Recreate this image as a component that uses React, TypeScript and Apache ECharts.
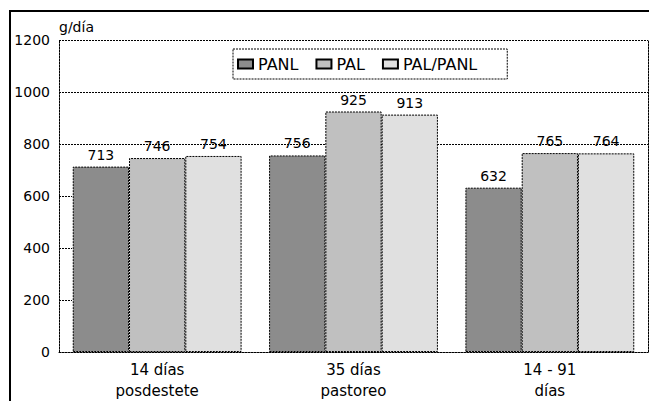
import React, { useEffect, useRef } from "react";
import * as echarts from "echarts";

const categories = ["14 días\nposdestete", "35 días\npastoreo", "14 - 91\ndías"];
const seriesNames = ["PANL", "PAL", "PAL/PANL"];
const panl = [713, 756, 632];
const pal = [746, 925, 765];
const palPanl = [754, 913, 764];
const yTicks = { min: 0, max: 1200, interval: 200 };
const unitLabel = "g/día";

const FONT = "DejaVu Sans";
const DOT: any = [2, 1];

export default function App() {
  const ref = useRef<HTMLDivElement>(null);
  useEffect(() => {
    if (!ref.current) return;
    const chart = echarts.init(ref.current, undefined, { renderer: "svg" });
    const colors = ["#8c8c8c", "#c0c0c0", "#e0e0e0"];
    const values = [panl, pal, palPanl];
    chart.setOption({
      animation: false,
      backgroundColor: "#fff",
      textStyle: { fontFamily: FONT, color: "#000" },
      grid: { left: 59, right: 1, top: 40, bottom: 48 },
      legend: {
        left: 233,
        top: 49,
        padding: [7, 30, 7, 4],
        itemWidth: 15,
        itemHeight: 9,
        itemGap: 17,
        icon: "rect",
        backgroundColor: "#fff",
        borderColor: "#000",
        borderWidth: 1,
        borderType: DOT,
        textStyle: { fontFamily: FONT, fontSize: 16, color: "#000", padding: [0, 0, 0, 0] },
        data: seriesNames,
      },
      xAxis: {
        type: "category",
        data: categories,
        axisLine: { show: true, lineStyle: { color: "#000", width: 1, type: DOT } },
        axisTick: { show: false },
        axisLabel: { fontFamily: FONT, fontSize: 15, color: "#000", lineHeight: 21, margin: 7 },
      },
      yAxis: [
        {
          type: "value",
          min: yTicks.min,
          max: yTicks.max,
          interval: yTicks.interval,
          name: unitLabel,
          nameLocation: "end",
          nameGap: 6,
          nameTextStyle: { fontFamily: FONT, fontSize: 14, color: "#000", align: "left", padding: [0, 0, 0, 0] },
          axisLine: { show: true, lineStyle: { color: "#000", width: 1, type: DOT } },
          axisTick: { show: true, inside: true, length: 13, lineStyle: { color: "#000", type: DOT } },
          axisLabel: {
            fontFamily: FONT,
            fontSize: 14,
            color: "#000",
            margin: 9,
            formatter: (v: number) => String(v),
          },
          splitLine: {
            show: true,
            lineStyle: {
              color: ["rgba(0,0,0,0)", "rgba(0,0,0,0)", "rgba(0,0,0,0)", "rgba(0,0,0,0)", "#000", "#000", "#000"],
              width: 1,
              type: DOT,
            },
          },
        },
        {
          type: "value",
          position: "right",
          min: yTicks.min,
          max: yTicks.max,
          interval: yTicks.interval,
          axisLine: { show: true, lineStyle: { color: "#000", width: 1, type: DOT } },
          axisTick: { show: false },
          axisLabel: { show: false },
          splitLine: { show: false },
        },
      ],
      series: seriesNames.map((name, i) => ({
        name,
        type: "bar",
        data: values[i],
        barGap: "0%",
        barCategoryGap: "14%",
        itemStyle: { color: colors[i], borderColor: "#000", borderWidth: 1, borderType: DOT },
        label: {
          show: true,
          position: "top",
          distance: 5,
          fontFamily: FONT,
          fontSize: 14,
          color: "#000",
        },
      })),
      graphic: [
        {
          type: "rect",
          shape: { x: 10, y: 11, width: 700, height: 500 },
          style: { fill: "none", stroke: "#000", lineWidth: 2 },
          silent: true,
          z: 100,
        },
      ],
    });
    return () => chart.dispose();
  }, []);
  return (
    <div
      ref={ref}
      style={{ position: "fixed", left: 0, top: 0, width: 649, height: 401, background: "#fff" }}
    />
  );
}
